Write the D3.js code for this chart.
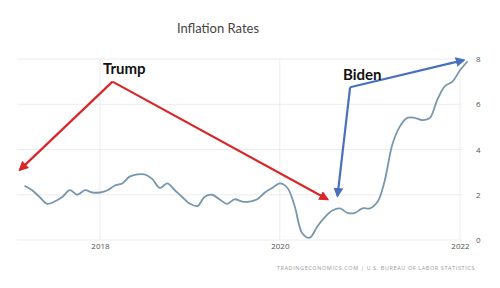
<!DOCTYPE html>
<html>
<head>
<meta charset="utf-8">
<script src="https://cdn.jsdelivr.net/npm/d3@7"></script>
<style>
  body { margin: 0; background: #fff; }
  svg { display: block; }
</style>
</head>
<body>
<div id="chart"></div>
<script>
// US CPI inflation, yoy %, monthly from Mar 2017 to Feb 2022
const startMonth = [2017, 2]; // March 2017 (0-based month)
const inflation = [
  2.4, 2.2, 1.9, 1.6, 1.7, 1.9, 2.2, 2.0, 2.2, 2.1,
  2.1, 2.2, 2.4, 2.5, 2.8, 2.9, 2.9, 2.7, 2.3, 2.5, 2.2, 1.9,
  1.6, 1.5, 1.9, 2.0, 1.8, 1.6, 1.8, 1.7, 1.7, 1.8, 2.1, 2.3,
  2.5, 2.3, 1.5, 0.3, 0.1, 0.6, 1.0, 1.3, 1.4, 1.2, 1.2, 1.4,
  1.4, 1.7, 2.6, 4.2, 5.0, 5.4, 5.4, 5.3, 5.4, 6.2, 6.8, 7.0,
  7.5, 7.9
];
const yTicks = [0, 2, 4, 6, 8];
const xTickYears = [2018, 2020, 2022];

// annotation arrows in data units: [year fraction, value]
const trumpArrows = [
  { from: [2018.14, 7.0], to: [2017.11, 3.1] },
  { from: [2018.14, 7.0], to: [2020.53, 1.8] }
];
const bidenElbow = [2020.78, 6.75];
const bidenArrows = [
  { from: bidenElbow, to: [2022.04, 7.95] },
  { from: bidenElbow, to: [2020.64, 1.95] }
];

const width = 500, height = 288;
const svg = d3.select("#chart").append("svg")
    .attr("width", width)
    .attr("height", height);

const x = d3.scaleTime()
    .domain([new Date(2017, 0, 1), new Date(2022, 0, 1)])
    .range([10, 460]);
const y = d3.scaleLinear()
    .domain([0, 8])
    .range([240, 59]);

const yearDate = t => {
  const yr = Math.floor(t);
  return new Date(yr, 0, 1 + Math.round((t - yr) * 365));
};

const data = inflation.map((v, i) => ({
  date: new Date(startMonth[0], startMonth[1] + i, 1),
  value: v
}));

// arrowheads
const defs = svg.append("defs");
[["red", "#d8262a"], ["blue", "#4a70bd"]].forEach(([id, c]) => {
  defs.append("marker")
      .attr("id", "head-" + id)
      .attr("viewBox", "0 0 10 10")
      .attr("refX", 8).attr("refY", 5)
      .attr("markerWidth", 4.5).attr("markerHeight", 4.5)
      .attr("orient", "auto")
    .append("path")
      .attr("d", "M0,0L10,5L0,10z")
      .attr("fill", c);
});

// title
svg.append("text")
    .attr("x", 218).attr("y", 33)
    .attr("text-anchor", "middle")
    .attr("font-family", "Lato, 'Open Sans', sans-serif")
    .attr("font-size", 13)
    .attr("fill", "#444")
    .text("Inflation Rates");

// gridlines
svg.append("g").selectAll("line")
  .data(yTicks)
  .join("line")
    .attr("x1", 17).attr("x2", 462)
    .attr("y1", d => y(d)).attr("y2", d => y(d))
    .attr("stroke", "#ececec");

svg.append("g").selectAll("line")
  .data(xTickYears)
  .join("line")
    .attr("x1", d => x(new Date(d, 0, 1))).attr("x2", d => x(new Date(d, 0, 1)))
    .attr("y1", y(8)).attr("y2", y(0))
    .attr("stroke", "#ececec");

// axes labels
const yAxis = d3.axisRight(y).tickValues(yTicks).tickSize(0).tickPadding(0);
svg.append("g")
    .attr("transform", "translate(476,0)")
    .call(yAxis)
    .call(g => g.select(".domain").remove())
    .call(g => g.selectAll("text")
        .attr("font-family", "'Open Sans', sans-serif")
        .attr("font-size", 8)
        .attr("fill", "#555"));

const xAxis = d3.axisBottom(x)
    .tickValues(xTickYears.map(d => new Date(d, 0, 1)))
    .tickFormat(d3.timeFormat("%Y"))
    .tickSize(0).tickPadding(0);
svg.append("g")
    .attr("transform", "translate(0,243)")
    .call(xAxis)
    .call(g => g.select(".domain").remove())
    .call(g => g.selectAll("text")
        .attr("font-family", "'Open Sans', sans-serif")
        .attr("font-size", 8)
        .attr("fill", "#555"));

// inflation line
const line = d3.line()
    .x(d => x(d.date))
    .y(d => y(d.value))
    .curve(d3.curveCatmullRom.alpha(0.5));

svg.append("path")
    .datum(data)
    .attr("d", line)
    .attr("fill", "none")
    .attr("stroke", "#7896ad")
    .attr("stroke-width", 1.8)
    .attr("stroke-linejoin", "round");

// annotations
function drawArrows(list, color, id) {
  svg.append("g").selectAll("line")
    .data(list)
    .join("line")
      .attr("x1", d => x(yearDate(d.from[0]))).attr("y1", d => y(d.from[1]))
      .attr("x2", d => x(yearDate(d.to[0]))).attr("y2", d => y(d.to[1]))
      .attr("stroke", color)
      .attr("stroke-width", 2.2)
      .attr("marker-end", "url(#head-" + id + ")");
}
drawArrows(trumpArrows, "#d8262a", "red");
drawArrows(bidenArrows, "#4a70bd", "blue");

svg.append("text")
    .attr("x", 103).attr("y", 74)
    .attr("font-family", "Lato, 'Open Sans', sans-serif")
    .attr("font-weight", "bold")
    .attr("font-size", 15)
    .attr("fill", "#111")
    .text("Trump");

svg.append("text")
    .attr("x", 343).attr("y", 80)
    .attr("font-family", "Lato, 'Open Sans', sans-serif")
    .attr("font-weight", "bold")
    .attr("font-size", 15)
    .attr("fill", "#111")
    .text("Biden");

// source
svg.append("text")
    .attr("x", 475).attr("y", 270)
    .attr("text-anchor", "end")
    .attr("font-family", "'Open Sans', sans-serif")
    .attr("font-size", 5.5)
    .attr("letter-spacing", 0.6)
    .attr("fill", "#9a9a9a")
    .text("TRADINGECONOMICS.COM  |  U.S. BUREAU OF LABOR STATISTICS");
</script>
</body>
</html>
